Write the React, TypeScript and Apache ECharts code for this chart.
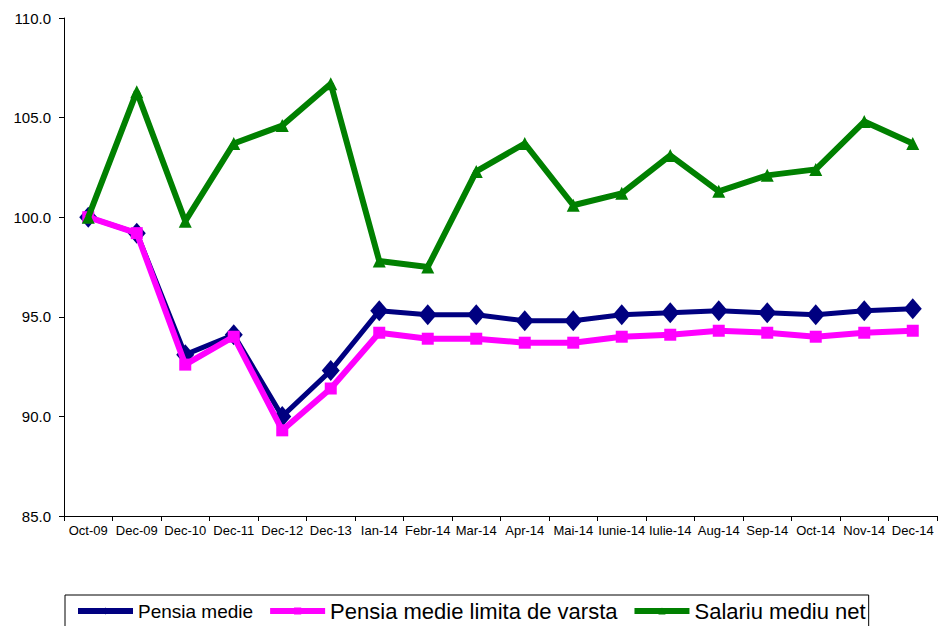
import React, { useEffect, useRef } from "react";
import * as echarts from "echarts";

const categories = [
  "Oct-09", "Dec-09", "Dec-10", "Dec-11", "Dec-12", "Dec-13", "Ian-14", "Febr-14", "Mar-14",
  "Apr-14", "Mai-14", "Iunie-14", "Iulie-14", "Aug-14", "Sep-14", "Oct-14", "Nov-14", "Dec-14",
];
const pensiaMedie = [100.0, 99.2, 93.1, 94.1, 90.0, 92.3, 95.3, 95.1, 95.1, 94.8, 94.8, 95.1, 95.2, 95.3, 95.2, 95.1, 95.3, 95.4];
const pensiaLimita = [100.0, 99.2, 92.6, 94.0, 89.3, 91.4, 94.2, 93.9, 93.9, 93.7, 93.7, 94.0, 94.1, 94.3, 94.2, 94.0, 94.2, 94.3];
const salariuNet = [100.0, 106.3, 99.8, 103.7, 104.6, 106.7, 97.8, 97.5, 102.3, 103.7, 100.6, 101.2, 103.1, 101.3, 102.1, 102.4, 104.8, 103.7];
const seriesNames = ["Pensia medie", "Pensia medie limita de varsta", "Salariu mediu net"];
const yTicks = { min: 85, max: 110, interval: 5 };

const FONT = "'Liberation Sans', Arial, sans-serif";

export default function App() {
  const ref = useRef<HTMLDivElement>(null);
  useEffect(() => {
    if (!ref.current) return;
    const chart = echarts.init(ref.current, null, { renderer: "svg" });
    chart.setOption({
      animation: false,
      backgroundColor: "#ffffff",
      textStyle: { fontFamily: FONT },
      grid: { left: 64, right: 1, top: 18, bottom: 110, containLabel: false },
      legend: {
        left: 65,
        top: 595,
        padding: [5, 3, 12, 10],
        itemGap: 14,
        itemWidth: 55,
        itemHeight: 9,
        borderColor: "#000",
        borderWidth: 1,
        backgroundColor: "#fff",
        lineStyle: { width: 6 },
        textStyle: { color: "#000", fontFamily: FONT, fontSize: 22 },
        data: [
          { name: seriesNames[0], textStyle: { fontSize: 19 } },
          { name: seriesNames[1] },
          { name: seriesNames[2] },
        ],
      },
      xAxis: {
        type: "category",
        data: categories,
        boundaryGap: true,
        axisLine: { lineStyle: { color: "#000", width: 1 } },
        axisTick: { show: true, alignWithLabel: false, length: 5, lineStyle: { color: "#000" } },
        axisLabel: { interval: 0, color: "#000", fontSize: 13, fontFamily: FONT, margin: 8 },
        splitLine: { show: false },
      },
      yAxis: {
        type: "value",
        min: yTicks.min,
        max: yTicks.max,
        interval: yTicks.interval,
        axisLine: { show: true, lineStyle: { color: "#000", width: 1 } },
        axisTick: { show: true, length: 5, lineStyle: { color: "#000" } },
        axisLabel: {
          color: "#000",
          fontSize: 15,
          fontFamily: FONT,
          margin: 13,
          formatter: (v: number) => v.toFixed(1),
        },
        splitLine: { show: false },
      },
      series: [
        {
          name: seriesNames[0],
          type: "line",
          data: pensiaMedie,
          symbol: "diamond",
          symbolSize: [18, 21],
          lineStyle: { color: "#000080", width: 5 },
          itemStyle: { color: "#000080" },
          z: 2,
        },
        {
          name: seriesNames[1],
          type: "line",
          data: pensiaLimita,
          symbol: "rect",
          symbolSize: 12,
          lineStyle: { color: "#ff00ff", width: 6 },
          itemStyle: { color: "#ff00ff" },
          z: 3,
        },
        {
          name: seriesNames[2],
          type: "line",
          data: salariuNet,
          symbol: "triangle",
          symbolSize: 13,
          lineStyle: { color: "#008000", width: 6 },
          itemStyle: { color: "#008000" },
          z: 4,
        },
      ],
    });
    return () => chart.dispose();
  }, []);
  return (
    <div
      ref={ref}
      style={{ position: "fixed", left: 0, top: 0, width: 938, height: 626, background: "#fff" }}
    />
  );
}
